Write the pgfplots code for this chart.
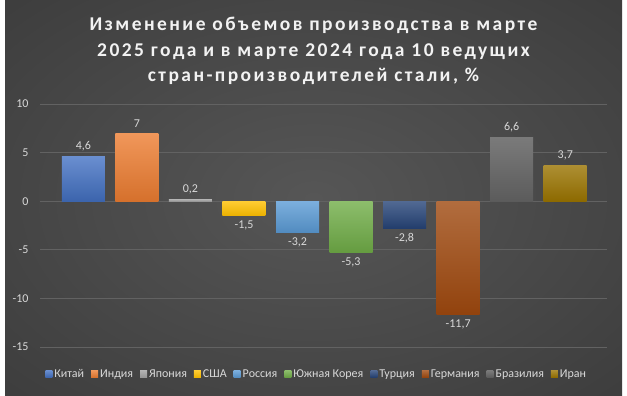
\documentclass[border=0pt]{standalone}
\usepackage{pgfplots}
\pgfplotsset{compat=1.18}
\usepackage{fontspec}
\setmainfont{Carlito}
\newfontfamily\titlefont[LetterSpace=12.5]{Carlito}
\definecolor{bgin}{RGB}{86,86,86}
\definecolor{bgout}{RGB}{36,36,36}
\definecolor{gridc}{RGB}{98,98,98}
\definecolor{txt}{RGB}{217,217,217}
\definecolor{titlec}{RGB}{242,242,242}
\definecolor{cA}{HTML}{4472C4}
\definecolor{cB}{HTML}{ED7D31}
\definecolor{cC}{HTML}{A5A5A5}
\definecolor{cD}{HTML}{FFC000}
\definecolor{cE}{HTML}{5B9BD5}
\definecolor{cF}{HTML}{70AD47}
\definecolor{cG}{HTML}{264478}
\definecolor{cH}{HTML}{9E480E}
\definecolor{cI}{HTML}{636363}
\definecolor{cJ}{HTML}{997300}
\pgfdeclareradialshading{bgshade}{\pgfpoint{0bp}{0bp}}{color(0bp)=(bgin); color(72bp)=(bgout)}
\begin{document}
\begin{tikzpicture}[x=1pt,y=1pt]
\fill[white] (0,0) rectangle (627,396);
\shade[shading=bgshade] (5,0) rectangle (622,396);
\node[align=center, text=titlec, font=\titlefont\bfseries\fontsize{19.5}{25.5}\selectfont] at (313.5,345)
  {Изменение объемов производства в марте\\2025 года и в марте 2024 года 10 ведущих\\стран-производителей стали, \%};
\begin{axis}[at={(40pt,49pt)}, anchor=south west, scale only axis,
  width=567pt, height=243pt,
  xmin=-0.81, xmax=9.78, ymin=-15, ymax=10,
  ytick={-15,-10,-5,0,5,10}, xtick=\empty,
  axis line style={draw=none}, major tick length=0pt,
  ymajorgrids, grid style={gridc, line width=0.8pt},
  /pgf/number format/assume math mode=true,
  /pgf/number format/use comma,
  yticklabel style={text=txt, font=\fontsize{12}{14}\selectfont, anchor=east, xshift=-8pt},
  ybar, bar width=43pt, bar shift=0pt,
  nodes near coords,
  nodes near coords style={text=txt, font=\fontsize{12}{14}\selectfont, inner sep=5pt},
  legend style={at={(0.488,-0.111)}, anchor=center, draw=none, fill=none,
    text=txt, font=\fontsize{12}{14}\selectfont,
    /tikz/every even column/.append style={column sep=5pt},
    /tikz/every odd column/.append style={column sep=0pt}},
  legend columns=10,
  legend image code/.code={\fill[#1] (0pt,-3.5pt) rectangle (7pt,3.5pt);},
]
\addplot[draw=none, top color=cA!80!white, bottom color=cA!88!black] coordinates {(0,4.6)};
\addlegendentry{Китай}
\addplot[draw=none, top color=cB!80!white, bottom color=cB!90!black] coordinates {(1,7)};
\addlegendentry{Индия}
\addplot[draw=none, top color=cC!85!white, bottom color=cC!90!black] coordinates {(2,0.2)};
\addlegendentry{Япония}
\addplot[draw=none, top color=cD!80!white, bottom color=cD!92!black] coordinates {(3,-1.5)};
\addlegendentry{США}
\addplot[draw=none, top color=cE!80!white, bottom color=cE!90!black] coordinates {(4,-3.2)};
\addlegendentry{Россия}
\addplot[draw=none, top color=cF!80!white, bottom color=cF!90!black] coordinates {(5,-5.3)};
\addlegendentry{Южная Корея}
\addplot[draw=none, top color=cG!80!white, bottom color=cG!90!black] coordinates {(6,-2.8)};
\addlegendentry{Турция}
\addplot[draw=none, top color=cH!80!white, bottom color=cH!92!black] coordinates {(7,-11.7)};
\addlegendentry{Германия}
\addplot[draw=none, top color=cI!85!white, bottom color=cI!92!black] coordinates {(8,6.6)};
\addlegendentry{Бразилия}
\addplot[draw=none, top color=cJ!80!white, bottom color=cJ!92!black] coordinates {(9,3.7)};
\addlegendentry{Иран}
\end{axis}
\pgfresetboundingbox
\useasboundingbox (0,0) rectangle (627,396);
\end{tikzpicture}
\end{document}
